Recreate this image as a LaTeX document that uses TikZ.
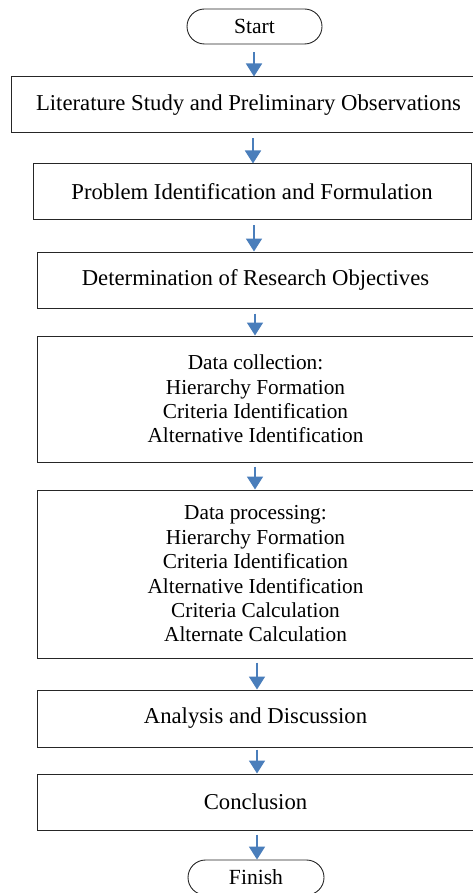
\documentclass[tikz,border=0pt]{standalone}
\usepackage{fontspec}
\setmainfont{Liberation Serif}
\usetikzlibrary{arrows.meta,calc}
\definecolor{arrblue}{RGB}{74,126,187}
\begin{document}
\begin{tikzpicture}[x=1pt,y=-1pt,
  big/.style={font=\fontsize{22.7}{26}\selectfont},
  small/.style={font=\fontsize{21.3}{24.4}\selectfont},
  box/.style={draw=black!85, line width=1pt, rectangle, align=center, inner sep=0pt},
  term/.style={font=\fontsize{21.6}{24}\selectfont, draw=black!85, line width=0.9pt, rounded corners=17.5pt, minimum width=135pt, minimum height=35pt, inner sep=0pt},
  arr/.style={draw=arrblue, line width=1.8pt, -{Triangle[length=13pt,width=16pt,fill=arrblue]}}]
\useasboundingbox (0,0) rectangle (473,893);
\node[term] (s) at (254.5,26.5) {Start};
\node[box, big, minimum width=475pt, minimum height=56pt] (b1) at (248.5,105) {Literature Study and Preliminary Observations};
\node[box, big, minimum width=438pt, minimum height=56pt] (b2) at (252,192) {Problem Identification and Formulation};
\node[box, big, minimum width=437pt, minimum height=56pt] (b3) at (255.5,280) {Determination of Research Objectives};
\node[box, small, minimum width=437pt, minimum height=126pt] (b4) at (255.5,399) {Data collection:\\Hierarchy Formation\\Criteria Identification\\Alternative Identification};
\node[box, small, minimum width=437pt, minimum height=168pt] (b5) at (255.5,574) {Data processing:\\Hierarchy Formation\\Criteria Identification\\Alternative Identification\\Criteria Calculation\\Alternate Calculation};
\node[box, big, minimum width=437pt, minimum height=57pt] (b6) at (255.5,718.5) {Analysis and Discussion};
\node[box, big, minimum width=437pt, minimum height=56pt] (b7) at (255.5,802) {Conclusion};
\node[term, minimum width=136pt] (f) at (256,877.5) {Finish};
\coordinate (x1) at (254,0);
\coordinate (x2) at (253,0);
\coordinate (x3) at (254,0);
\coordinate (x4) at (255,0);
\coordinate (x5) at (255,0);
\coordinate (x6) at (257,0);
\coordinate (x7) at (257,0);
\coordinate (x8) at (257,0);
\draw[arr] ($(s.south -| x1)+(0,8)$) -- (b1.north -| x1);
\draw[arr] ($(b1.south -| x2)+(0,5)$) -- (b2.north -| x2);
\draw[arr] ($(b2.south -| x3)+(0,5)$) -- (b3.north -| x3);
\draw[arr] ($(b3.south -| x4)+(0,5)$) -- (b4.north -| x4);
\draw[arr] ($(b4.south -| x5)+(0,4)$) -- (b5.north -| x5);
\draw[arr] ($(b5.south -| x6)+(0,4)$) -- (b6.north -| x6);
\draw[arr] ($(b6.south -| x7)+(0,2)$) -- (b7.north -| x7);
\draw[arr] ($(b7.south -| x8)+(0,4)$) -- (f.north -| x8);
\end{tikzpicture}
\end{document}
